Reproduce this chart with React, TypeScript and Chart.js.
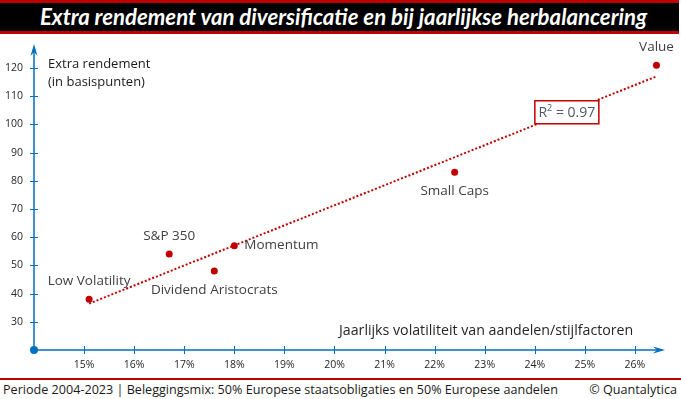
import React, { useEffect, useRef } from 'react';
import { Chart, registerables } from 'chart.js';

Chart.register(...registerables);

// ---- data ----
const categories = ['Low Volatility', 'S&P 350', 'Dividend Aristocrats', 'Momentum', 'Small Caps', 'Value'];
const volatility = [15.1, 16.7, 17.6, 18.0, 22.4, 26.43];
const extraReturn = [38, 54, 48, 57, 83, 121];
const xTickValues = [15, 16, 17, 18, 19, 20, 21, 22, 23, 24, 25, 26];
const yTickValues = [30, 40, 50, 60, 70, 80, 90, 100, 110, 120];
const labelPlacement = ['above', 'above', 'below', 'right', 'below', 'above'];

const titleText = 'Extra rendement van diversificatie en bij jaarlijkse herbalancering';
const yAxisTitle = ['Extra rendement', '(in basispunten)'];
const xAxisTitle = 'Jaarlijks volatiliteit van aandelen/stijlfactoren';
const footerLeft = 'Periode 2004-2023 | Beleggingsmix: 50% Europese staatsobligaties en 50% Europese aandelen';
const footerRight = '© Quantalytica';

const RED = '#C00000';
const AXIS = '#0070C0';
const FONT = '"Open Sans", "Noto Sans", sans-serif';

function regression(xs: number[], ys: number[]) {
  const n = xs.length;
  const mx = xs.reduce((a, b) => a + b, 0) / n;
  const my = ys.reduce((a, b) => a + b, 0) / n;
  let sxy = 0, sxx = 0, syy = 0;
  for (let i = 0; i < n; i++) {
    sxy += (xs[i] - mx) * (ys[i] - my);
    sxx += (xs[i] - mx) ** 2;
    syy += (ys[i] - my) ** 2;
  }
  const slope = sxy / sxx;
  const intercept = my - slope * mx;
  const r2 = (sxy * sxy) / (sxx * syy);
  return { slope, intercept, r2 };
}

const reg = regression(volatility, extraReturn);
const xMinData = Math.min(...volatility);
const xMaxData = Math.max(...volatility);
const r2LabelX = 24.64;

const customPlugin = {
  id: 'customDecor',
  beforeDatasetsDraw(chart: any) {
    const { ctx, chartArea, scales } = chart;
    const xs = scales.x, ys = scales.y;
    const ox = xs.getPixelForValue(xs.min);
    const oy = ys.getPixelForValue(ys.min);
    const top = chartArea.top;
    const right = chartArea.right;
    ctx.save();
    ctx.strokeStyle = AXIS;
    ctx.fillStyle = AXIS;
    ctx.lineWidth = 1.5;
    ctx.beginPath();
    ctx.moveTo(ox, oy);
    ctx.lineTo(right - 6, oy);
    ctx.moveTo(ox, oy);
    ctx.lineTo(ox, top + 6);
    ctx.stroke();
    ctx.lineWidth = 1;
    ctx.beginPath();
    xTickValues.forEach((v) => {
      const px = Math.round(xs.getPixelForValue(v)) + 0.5;
      ctx.moveTo(px, oy - 4);
      ctx.lineTo(px, oy + 4);
    });
    yTickValues.forEach((v) => {
      const py = Math.round(ys.getPixelForValue(v)) + 0.5;
      ctx.moveTo(ox - 4, py);
      ctx.lineTo(ox + 4, py);
    });
    ctx.stroke();
    // arrow heads (stealth)
    ctx.beginPath();
    ctx.moveTo(right, oy);
    ctx.lineTo(right - 12, oy - 3.5);
    ctx.lineTo(right - 8, oy);
    ctx.lineTo(right - 12, oy + 3.5);
    ctx.closePath();
    ctx.fill();
    ctx.beginPath();
    ctx.moveTo(ox, top);
    ctx.lineTo(ox - 3.5, top + 12);
    ctx.lineTo(ox, top + 8);
    ctx.lineTo(ox + 3.5, top + 12);
    ctx.closePath();
    ctx.fill();
    // origin dot
    ctx.beginPath();
    ctx.arc(ox, oy, 4, 0, Math.PI * 2);
    ctx.fill();
    ctx.restore();
  },
  afterDatasetsDraw(chart: any) {
    const { ctx, scales } = chart;
    const xs = scales.x, ys = scales.y;
    const oy = ys.getPixelForValue(ys.min);
    ctx.save();
    // point labels
    ctx.font = `13.5px ${FONT}`;
    ctx.fillStyle = '#404040';
    const meta = chart.getDatasetMeta(0);
    meta.data.forEach((pt: any, i: number) => {
      const p = labelPlacement[i];
      ctx.textBaseline = 'middle';
      if (p === 'above') {
        ctx.textAlign = 'center';
        ctx.fillText(categories[i], pt.x, pt.y - 18);
      } else if (p === 'below') {
        ctx.textAlign = 'center';
        ctx.fillText(categories[i], pt.x, pt.y + 19);
      } else {
        ctx.textAlign = 'left';
        ctx.fillText(categories[i], pt.x + 10, pt.y);
      }
    });
    // R^2 box
    const cx = xs.getPixelForValue(r2LabelX);
    const cy = ys.getPixelForValue(reg.slope * r2LabelX + reg.intercept);
    const w = 64, h = 23;
    ctx.fillStyle = '#ffffff';
    ctx.fillRect(cx - w / 2, cy - h / 2, w, h);
    ctx.strokeStyle = RED;
    ctx.lineWidth = 1.5;
    ctx.strokeRect(cx - w / 2, cy - h / 2, w, h);
    ctx.fillStyle = '#4a5868';
    ctx.textBaseline = 'middle';
    ctx.textAlign = 'left';
    const r2Str = ' = ' + reg.r2.toFixed(2);
    ctx.font = `14px ${FONT}`;
    const wR = ctx.measureText('R').width;
    ctx.font = `9px ${FONT}`;
    const w2 = ctx.measureText('2').width;
    ctx.font = `14px ${FONT}`;
    const wRest = ctx.measureText(r2Str).width;
    const tx = cx - (wR + w2 + wRest) / 2;
    ctx.fillText('R', tx, cy + 1);
    ctx.font = `9px ${FONT}`;
    ctx.fillText('2', tx + wR, cy - 4);
    ctx.font = `14px ${FONT}`;
    ctx.fillText(r2Str, tx + wR + w2, cy + 1);
    // axis titles
    ctx.fillStyle = '#1a1a1a';
    ctx.font = `13px ${FONT}`;
    ctx.textAlign = 'left';
    const t1 = ys.getPixelForValue(120) - 4;
    ctx.fillText(yAxisTitle[0], 48, t1);
    ctx.fillText(yAxisTitle[1], 48, t1 + 18);
    ctx.font = `14.2px ${FONT}`;
    ctx.fillStyle = '#262626';
    ctx.fillText(xAxisTitle, 339, oy - 19);
    ctx.restore();
  },
};

export default function App() {
  const ref = useRef<HTMLCanvasElement>(null);
  useEffect(() => {
    if (!ref.current) return;
    const chart = new Chart(ref.current, {
      type: 'scatter',
      data: {
        datasets: [
          {
            type: 'scatter',
            label: 'Stijlfactoren',
            data: volatility.map((v, i) => ({ x: v, y: extraReturn[i] })),
            backgroundColor: RED,
            borderWidth: 0,
            pointRadius: 3.5,
            order: 1,
          },
          {
            type: 'line',
            label: 'Trend',
            data: [
              { x: xMinData, y: reg.slope * xMinData + reg.intercept },
              { x: xMaxData, y: reg.slope * xMaxData + reg.intercept },
            ],
            borderColor: RED,
            borderWidth: 2,
            borderDash: [2, 2],
            pointRadius: 0,
            fill: false,
            order: 2,
          } as any,
        ],
      },
      options: {
        animation: false,
        responsive: false,
        maintainAspectRatio: false,
        layout: { padding: { top: 10, right: 16, bottom: 0, left: 0 } },
        plugins: { legend: { display: false }, tooltip: { enabled: false }, title: { display: false } },
        scales: {
          x: {
            type: 'linear',
            min: 14,
            max: 26.6,
            grid: { display: false, drawTicks: true, tickLength: 8 },
            border: { display: false },
            afterBuildTicks: (s: any) => { s.ticks = xTickValues.map((v) => ({ value: v })); },
            afterFit: (s: any) => { s.height = 26; },
            ticks: {
              padding: 1,
              font: { family: FONT, size: 10.5 },
              color: '#262626',
              maxRotation: 0,
              autoSkip: false,
              callback: (v: any) => `${v}%`,
            },
          },
          y: {
            type: 'linear',
            min: 20,
            max: 128.5,
            grid: { display: false, drawTicks: true, tickLength: 8 },
            border: { display: false },
            afterBuildTicks: (s: any) => { s.ticks = yTickValues.map((v) => ({ value: v })); },
            afterFit: (s: any) => { s.width = 34; },
            ticks: {
              padding: 3,
              font: { family: FONT, size: 10.5 },
              color: '#262626',
              autoSkip: false,
            },
          },
        },
      },
      plugins: [customPlugin],
    });
    return () => chart.destroy();
  }, []);

  return (
    <div style={{ position: 'absolute', left: 0, top: 0, width: 681, height: 399, background: '#fff', overflow: 'hidden' }}>
      <div
        style={{
          position: 'absolute', left: 0, top: 0, width: 679, height: 28,
          background: '#000', borderTop: `3px solid ${RED}`, borderBottom: `3px solid ${RED}`,
          color: '#fff', fontFamily: 'Lato, "Open Sans", sans-serif', fontWeight: 700, fontStyle: 'italic',
          fontSize: 22.2, lineHeight: '28px', textAlign: 'center', whiteSpace: 'nowrap',
          paddingLeft: 0, textIndent: 8, boxSizing: 'content-box',
        }}
      >
        {titleText}
      </div>
      <canvas ref={ref} width={681} height={342} style={{ position: 'absolute', left: 0, top: 34, width: 681, height: 342 }} />
      <div style={{ position: 'absolute', left: 0, top: 378, width: 681, height: 2, background: RED }} />
      <div
        style={{
          position: 'absolute', left: 3, top: 381, width: 674, height: 17,
          fontFamily: FONT, fontSize: 12.6, lineHeight: '17px', color: '#1a1a1a', whiteSpace: 'nowrap',
        }}
      >
        <span>{footerLeft}</span>
        <span style={{ position: 'absolute', right: 0, top: 0 }}>{footerRight}</span>
      </div>
    </div>
  );
}
